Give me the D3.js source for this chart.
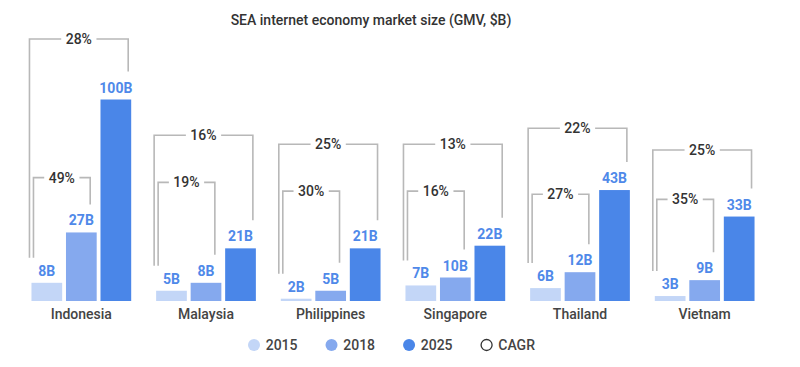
<!DOCTYPE html>
<html>
<head>
<meta charset="utf-8">
<script src="https://cdn.jsdelivr.net/npm/d3@7"></script>
<style>
  html, body { margin: 0; padding: 0; background: #fff; }
  svg { display: block; font-family: Roboto, "Noto Sans", sans-serif; }
</style>
</head>
<body>
<svg id="chart" width="800" height="367"></svg>
<script>
// ---- data ----
const title = "SEA internet economy market size (GMV, $B)";
const countries = ["Indonesia", "Malaysia", "Philippines", "Singapore", "Thailand", "Vietnam"];
const years = ["2015", "2018", "2025"];
const gmv2015 = [8, 5, 2, 7, 6, 3];
const gmv2018 = [27, 8, 5, 10, 12, 9];
const gmv2025 = [100, 21, 21, 22, 43, 33];
const cagr2015to2018 = [49, 19, 30, 16, 27, 35];
const cagr2015to2025 = [28, 16, 25, 13, 22, 25];
// annotation layout: bracket heights expressed on the $B axis
const innerBracketLevel = [47.7, 45.9, 42.6, 42.6, 41.4, 39.5];
const outerBracketLevel = [100, 63.7, 60.3, 60.3, 66.3, 58.1];
const legendItems = ["2015", "2018", "2025", "CAGR"];

const colors = { "2015": "#c3d6f7", "2018": "#85a9ee", "2025": "#4a86e8" };
const series = { "2015": gmv2015, "2018": gmv2018, "2025": gmv2025 };

const svg = d3.select("#chart");
const baseline = 301;

const x0 = d3.scaleBand().domain(countries).range([19, 767]).paddingInner(0.2).paddingOuter(0.1);
const x1 = d3.scaleBand().domain(years).range([0, x0.bandwidth()]).paddingInner(0.11).paddingOuter(0);
// linear $B axis (used for annotations), and a broken axis for bars (tall bar is compressed)
const yLin = d3.scaleLinear().domain([0, 100]).range([304, 39]);
const yBar = d3.scaleLinear().domain([0, 45, 100]).range([yLin(0), yLin(45), 99.5]);

// title
svg.append("text")
  .attr("x", 371).attr("y", 25)
  .attr("text-anchor", "middle")
  .attr("font-size", 14).attr("font-weight", 500).attr("fill", "#333")
  .text(title);

const g = svg.append("g");

countries.forEach((c, i) => {
  const gx = x0(c);
  const grp = g.append("g").attr("transform", `translate(${gx},0)`);

  // bars
  years.forEach(yr => {
    const v = series[yr][i];
    const top = yBar(v);
    grp.append("rect")
      .attr("x", x1(yr)).attr("y", top)
      .attr("width", x1.bandwidth()).attr("height", baseline - top)
      .attr("fill", colors[yr]);
    grp.append("text")
      .attr("x", x1(yr) + x1.bandwidth() / 2).attr("y", top - 7)
      .attr("text-anchor", "middle")
      .attr("font-size", 14).attr("font-weight", 700).attr("fill", "#4f89e9")
      .text(v + "B");
  });

  // brackets
  const leftEnd = yBar(gmv2015[i]) - 25;
  const innerRightEnd = yBar(gmv2018[i]) - 28;
  const outerRightEnd = yBar(gmv2025[i]) - 28;
  const outerL = -2, innerL = 2;
  const innerR = x1("2018") + x1.bandwidth() - 6.5;
  const outerR = x1("2025") + x1.bandwidth() - 3;
  const brackets = [
    { l: outerL, r: outerR, top: yLin(outerBracketLevel[i]), rEnd: outerRightEnd, label: cagr2015to2025[i] + "%" },
    { l: innerL, r: innerR, top: yLin(innerBracketLevel[i]), rEnd: innerRightEnd, label: cagr2015to2018[i] + "%" }
  ];
  brackets.forEach(b => {
    grp.append("path")
      .attr("d", `M${b.l},${leftEnd}V${b.top}H${b.r}V${b.rEnd}`)
      .attr("fill", "none").attr("stroke", "#b8b8b8").attr("stroke-width", 1.6);
    const t = grp.append("text")
      .attr("x", (b.l + b.r) / 2).attr("y", b.top)
      .attr("dy", "0.36em")
      .attr("text-anchor", "middle")
      .attr("font-size", 14).attr("font-weight", 500).attr("fill", "#333")
      .text(b.label);
    const w = t.node().getComputedTextLength();
    grp.insert("rect", "text:last-of-type")
      .attr("x", (b.l + b.r) / 2 - w / 2 - 4.5).attr("y", b.top - 3)
      .attr("width", w + 9).attr("height", 6)
      .attr("fill", "#fff");
    t.raise();
  });

  // country label
  grp.append("text")
    .attr("x", x0.bandwidth() / 2).attr("y", 319)
    .attr("text-anchor", "middle")
    .attr("font-size", 14).attr("font-weight", 500).attr("fill", "#444")
    .text(c);
});

// legend
const lg = svg.append("g");
let lx = 248;
legendItems.forEach(item => {
  const isCagr = item === "CAGR";
  lg.append("circle")
    .attr("cx", lx + 6).attr("cy", 345).attr("r", isCagr ? 5.5 : 6)
    .attr("fill", isCagr ? "#fff" : colors[item])
    .attr("stroke", isCagr ? "#333" : "none").attr("stroke-width", 1.3);
  const t = lg.append("text")
    .attr("x", lx + 17.7).attr("y", 345).attr("dy", "0.36em")
    .attr("font-size", 14).attr("font-weight", 500).attr("fill", "#444")
    .text(item);
  lx += 17.7 + t.node().getComputedTextLength() + 28;
});
</script>
</body>
</html>
